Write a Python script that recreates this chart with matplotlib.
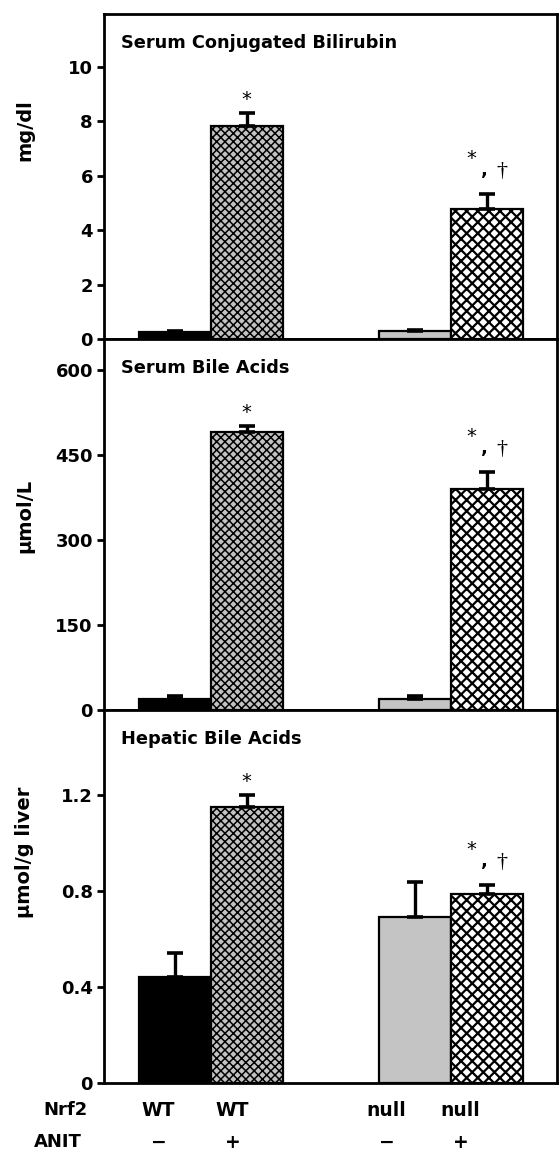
import matplotlib.pyplot as plt
from matplotlib.transforms import blended_transform_factory

plt.rcParams['font.family'] = ['DejaVu Sans']
plt.rcParams['font.weight'] = 'bold'
plt.rcParams['hatch.linewidth'] = 1.5

# grupos: WT -, WT +, null -, null +
xs = [0, 1, 3.333, 4.333]
nrf2 = ['WT', 'WT', 'null', 'null']
anit = ['\u2212', '+', '\u2212', '+']

titulos = ['Serum Conjugated Bilirubin', 'Serum Bile Acids', 'Hepatic Bile Acids']
unidades = ['mg/dl', '\u03bcmol/L', '\u03bcmol/g liver']

bilirrubina = [0.25, 7.85, 0.3, 4.77]
bilirrubina_err = [0.05, 0.45, 0.03, 0.55]
acidos_suero = [20, 491, 20, 390]
acidos_suero_err = [4, 10, 4, 30]
acidos_higado = [0.44, 1.15, 0.69, 0.79]
acidos_higado_err = [0.10, 0.052, 0.15, 0.035]

datos = [bilirrubina, acidos_suero, acidos_higado]
errores = [bilirrubina_err, acidos_suero_err, acidos_higado_err]
ylims = [11.95, 655, 1.555]
yticks = [[0, 2, 4, 6, 8, 10], [0, 150, 300, 450, 600], [0, 0.4, 0.8, 1.2]]
yticklabels = [['0', '2', '4', '6', '8', '10'],
               ['0', '150', '300', '450', '600'],
               ['0', '0.4', '0.8', '1.2']]

colores = ['black', '#c2c2c2', '#c4c4c4', 'white']
tramas = [None, 'xxxx', None, 'xxx']
grosor_trama = [1, 1.1, 1, 1.6]

W, H = 559, 1153
fig = plt.figure(figsize=(W / 100, H / 100), dpi=100)

# posiciones en pixeles (arriba, abajo) de cada panel
paneles = [(14, 339), (339, 710), (710, 1083)]
label_y = [130, 516, 852]
# corrimiento horizontal de las etiquetas de grupo (pixeles)
corr_x = [-16, -14, -28, -26]

for i in range(3):
    top, bot = paneles[i]
    ax = fig.add_axes([104 / W, (H - bot) / H, 453 / W, (bot - top) / H])
    for j in range(4):
        b = ax.bar(xs[j], datos[i][j], width=1, color=colores[j], hatch=tramas[j],
                   edgecolor='black', linewidth=1.6, zorder=2)
        if tramas[j] and hasattr(b[0], 'set_hatch_linewidth'):
            b[0].set_hatch_linewidth(grosor_trama[j])
    ax.errorbar(xs, datos[i], yerr=[[0] * 4, errores[i]], fmt='none', ecolor='black',
                elinewidth=2.4, capsize=5.5, capthick=2.6, zorder=3)
    ax.set_xlim(-0.979, 5.31)
    ax.set_ylim(0, ylims[i])
    ax.set_xticks([])
    ax.set_yticks(yticks[i])
    ax.set_yticklabels(yticklabels[i], fontsize=13, fontweight='bold')
    ax.tick_params(axis='y', direction='out', length=5, width=2, pad=3)
    for s in ax.spines.values():
        s.set_linewidth(2)
    ax.annotate(titulos[i], xy=(0, 1), xycoords='axes fraction', xytext=(17, -29),
                textcoords='offset pixels', fontsize=12.8, fontweight='bold',
                ha='left', va='center')
    fig.text(25 / W, (H - label_y[i]) / H, unidades[i], rotation=90, fontsize=14,
             fontweight='bold', ha='center', va='center')

    # significancia
    ax.annotate('*', xy=(xs[1], datos[i][1] + errores[i][1]), xytext=(0, 4),
                textcoords='offset pixels', ha='center', va='bottom', fontsize=14,
                fontweight='normal')
    p = (xs[3], datos[i][3] + errores[i][3])
    ax.annotate('*', xy=p, xytext=(-15, 26), textcoords='offset pixels', ha='center',
                va='bottom', fontsize=14, fontweight='normal')
    ax.annotate(',', xy=p, xytext=(-2, 15), textcoords='offset pixels', ha='center',
                va='bottom', fontsize=13, fontweight='bold')
    ax.annotate('\u2020', xy=p, xytext=(15, 13), textcoords='offset pixels', ha='center',
                va='bottom', fontsize=16, family='Liberation Serif', fontweight='normal')

# etiquetas de grupos debajo del ultimo panel
tr = blended_transform_factory(ax.transData, ax.transAxes)
ax.annotate('Nrf2', xy=(0, 0), xycoords='axes fraction', xytext=(-16, -27),
            textcoords='offset pixels', ha='right', va='center', fontsize=13,
            fontweight='bold')
ax.annotate('ANIT', xy=(0, 0), xycoords='axes fraction', xytext=(-22, -59),
            textcoords='offset pixels', ha='right', va='center', fontsize=13,
            fontweight='bold')
for j in range(4):
    ax.annotate(nrf2[j], xy=(xs[j], 0), xycoords=tr, xytext=(corr_x[j], -27),
                textcoords='offset pixels', ha='center', va='center', fontsize=13.5,
                fontweight='bold')
    ax.annotate(anit[j], xy=(xs[j], 0), xycoords=tr, xytext=(corr_x[j], -59),
                textcoords='offset pixels', ha='center', va='center', fontsize=13.5,
                fontweight='bold')

fig.savefig('out.png', dpi=100)
